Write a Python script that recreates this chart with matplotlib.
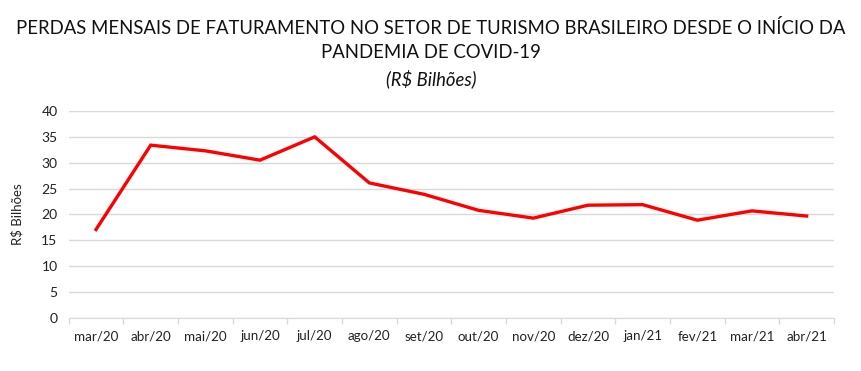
import matplotlib
matplotlib.use("Agg")
import matplotlib.pyplot as plt
import numpy as np

months = ["mar/20", "abr/20", "mai/20", "jun/20", "jul/20", "ago/20", "set/20",
          "out/20", "nov/20", "dez/20", "jan/21", "fev/21", "mar/21", "abr/21"]
losses = [17.1, 33.4, 32.3, 30.5, 35.0, 26.1, 23.9,
          20.8, 19.3, 21.8, 21.9, 18.9, 20.7, 19.7]
yticks = [0, 5, 10, 15, 20, 25, 30, 35, 40]

plt.rcParams['font.family'] = ['Lato', 'DejaVu Sans']

fig = plt.figure(figsize=(8.62, 3.71), dpi=100)
ax = fig.add_axes([0.0797, 0.1429, 0.8878, 0.5579])

x = np.arange(len(months))
ax.plot(x, losses, color="#FF0000", lw=2.4, solid_joinstyle="miter")

ax.set_xlim(-0.5, len(months) - 0.5)
ax.set_ylim(0, 40)
ax.set_yticks(yticks)
ax.set_yticklabels([str(v) for v in yticks], fontsize=10, color="#222222")
ax.grid(axis="y", color="#d9d9d9", lw=1)
ax.set_axisbelow(True)
ax.tick_params(axis="y", length=0, pad=8)

ax.set_xticks(x)
ax.set_xticklabels(months, fontsize=9.6, color="#222222")
ax.tick_params(axis="x", which="major", length=0, pad=9)
ax.set_xticks(np.arange(-0.5, len(months), 1.0), minor=True)
ax.tick_params(axis="x", which="minor", length=4, color="#d9d9d9", width=1)

for s in ["top", "right", "left"]:
    ax.spines[s].set_visible(False)
ax.spines["bottom"].set_color("#d9d9d9")

ax.set_ylabel("R$ Bilhões", fontsize=9.5, color="#222222", labelpad=13)

fig.text(0.5, 0.924, "PERDAS MENSAIS DE FATURAMENTO NO SETOR DE TURISMO BRASILEIRO DESDE O INÍCIO DA",
         ha="center", va="center", fontsize=13.35, color="#111111")
fig.text(0.5, 0.859, "PANDEMIA DE COVID-19", ha="center", va="center", fontsize=13.35, color="#111111")
fig.text(0.5, 0.789, "(R$ Bilhões)", ha="center", va="center", fontsize=13.35, style="italic", color="#111111")

fig.savefig("out.png", dpi=100)
